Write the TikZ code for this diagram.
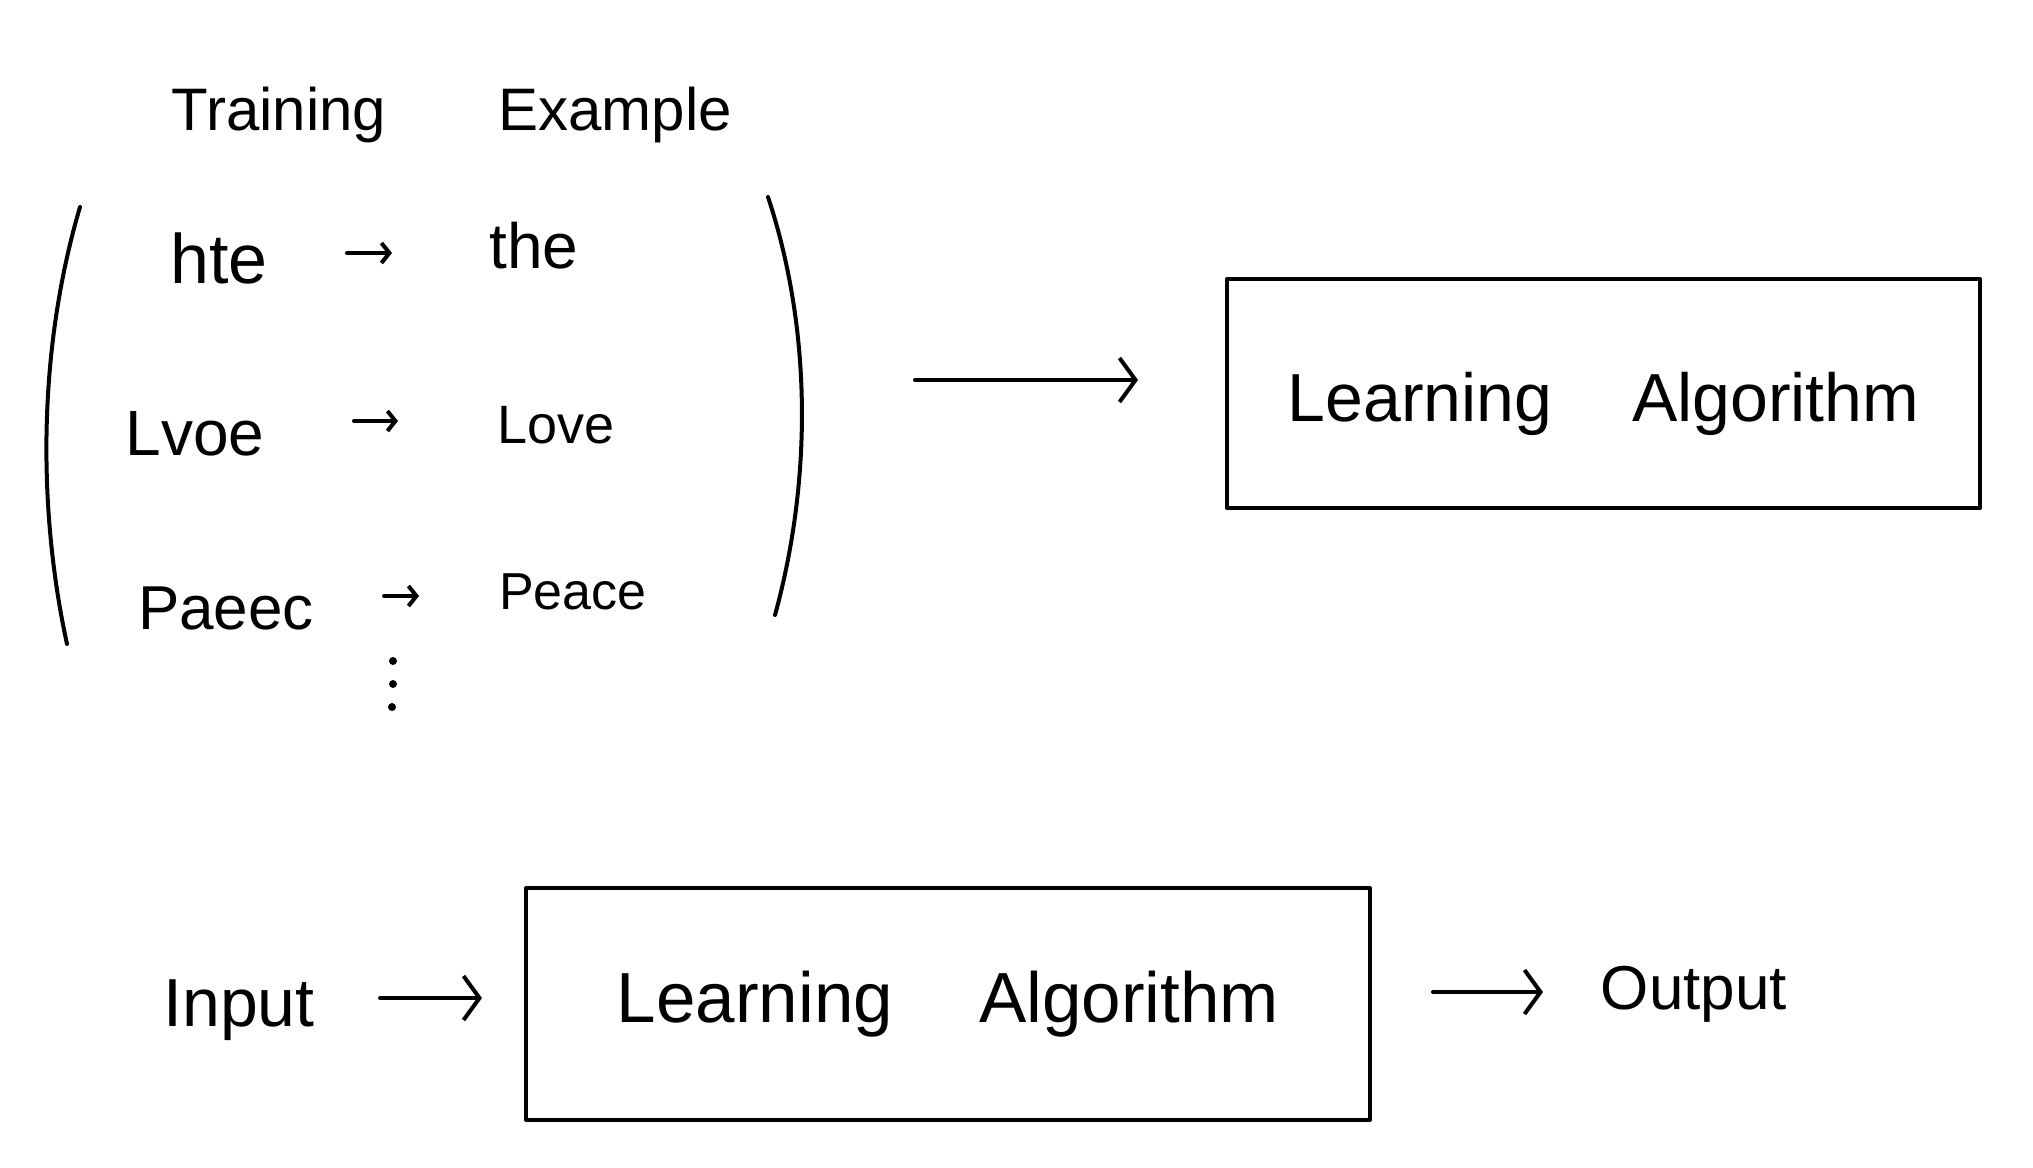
\documentclass[tikz,border=0pt]{standalone}
\usepackage{fontspec}
\setmainfont{Liberation Sans}
\usetikzlibrary{arrows.meta}
\newcommand{\fsz}[1]{\fontsize{#1pt}{#1pt}\selectfont}
\begin{document}
\begin{tikzpicture}[x=1pt,y=-1pt, line width=4pt, line cap=round, line join=round,
  lbl/.style={anchor=base, inner sep=0pt},
  bigarr/.style={-{Straight Barb[length=16pt,width=44pt,line width=4pt]}},
  smallarr/.style={-{Straight Barb[length=8pt,width=20pt,line width=4pt]}},
  algo/.style={draw, line width=4pt, inner sep=0pt},
  dotnode/.style={circle, fill, inner sep=0pt, minimum size=8pt}]
\useasboundingbox (0,0) rectangle (2033,1167);
% headers
\node[lbl, font=\fsz{60}] (train) at (279,130) {Training};
\node[lbl, font=\fsz{60}] (example) at (615,130) {Example};
% rows
\node[lbl, font=\fsz{70}] (hte) at (219,283) {hte};
\node[lbl, font=\fsz{64}] (the) at (534,268) {the};
\node[lbl, font=\fsz{64}] (lvoe) at (195,455) {Lvoe};
\node[lbl, font=\fsz{54}] (love) at (556,443) {Love};
\node[lbl, font=\fsz{62}] (paeec) at (226,629) {Paeec};
\node[lbl, font=\fsz{52}] (peace) at (573,609) {Peace};
\coordinate (a1s) at (347,253); \coordinate (a1e) at (392,253);
\coordinate (a2s) at (354,421); \coordinate (a2e) at (398,421);
\coordinate (a3s) at (384,596); \coordinate (a3e) at (419,596);
\draw[smallarr] (a1s) -- (a1e);
\draw[smallarr] (a2s) -- (a2e);
\draw[smallarr] (a3s) -- (a3e);
\node[dotnode] (d1) at (393,661) {};
\node[dotnode] (d2) at (393,684) {};
\node[dotnode] (d3) at (392,707) {};
% parentheses
\draw (80,207) .. controls (35,360) and (40,520) .. (67,644);
\draw (768,197) .. controls (812,330) and (812,480) .. (775,615);
% box 1
\node[algo, minimum width=753pt, minimum height=229pt, text height=60pt, text depth=5pt,
      font=\fsz{68}] (box1) at (1603.5,393.5) {Learning\hspace{80pt}Algorithm};
\coordinate (la) at (915,380); \coordinate (lb) at (1138,380);
\draw[bigarr] (la) -- (lb);
% bottom row
\node[lbl, font=\fsz{68}] (input) at (239,1026) {Input};
\node[algo, minimum width=844pt, minimum height=232pt, text height=45pt, text depth=9pt,
      font=\fsz{71}] (box2) at (948,1004) {Learning\hspace{86pt}Algorithm};
\node[lbl, font=\fsz{62}] (output) at (1694,1009) {Output};
\coordinate (ia) at (380,998); \coordinate (ib) at (482,998);
\coordinate (oa) at (1433,992); \coordinate (ob) at (1543,992);
\draw[bigarr] (ia) -- (ib);
\draw[bigarr] (oa) -- (ob);
\end{tikzpicture}
\end{document}
